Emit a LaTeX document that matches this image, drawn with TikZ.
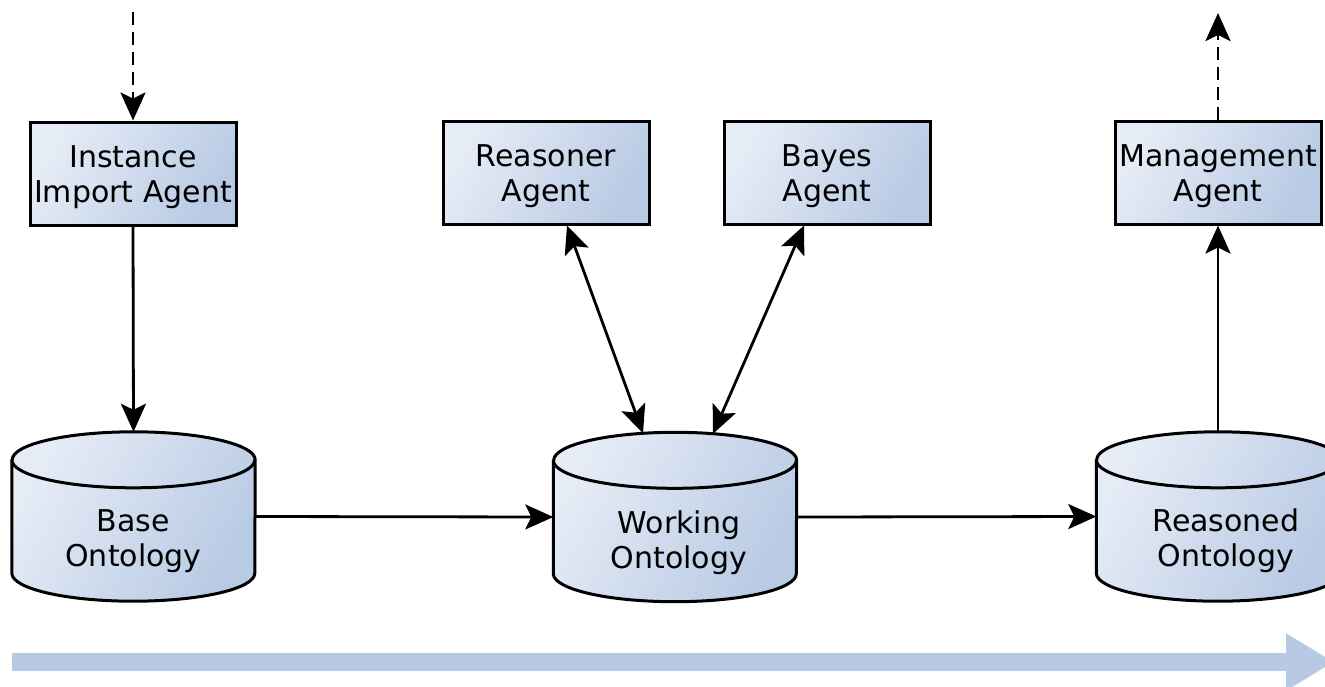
\documentclass[tikz,border=0pt]{standalone}
\usepackage{fontspec}
\setmainfont{DejaVu Sans}
\usetikzlibrary{arrows.meta,calc}

\definecolor{boxlight}{HTML}{E6ECF6}
\definecolor{boxdark}{HTML}{B8CAE4}
\definecolor{flowblue}{HTML}{B8CAE3}

\newcommand{\topstrut}{\rule{0pt}{30pt}}

\tikzset{
  agent/.style={draw=black, line width=3pt, rectangle,
    minimum width=206pt, minimum height=103pt, inner sep=0pt,
    left color=boxlight, right color=boxdark, shading angle=60,
    align=center, font=\fontsize{30}{35}\selectfont},
  storearea/.style={rectangle, minimum width=243pt, minimum height=169pt, inner sep=0pt},
  storefill/.style={draw=black, line width=3pt, line join=round,
    left color=boxlight, right color=boxdark, shading angle=60},
  storetext/.style={align=center, font=\fontsize{30}{35}\selectfont, inner sep=0pt},
  link/.style={line width=2.8pt, -{Stealth[length=28pt,width=25pt,inset=6pt]}},
  twoway/.style={line width=2.8pt, {Stealth[length=28pt,width=25pt,inset=6pt]}-{Stealth[length=28pt,width=25pt,inset=6pt]}},
  extlink/.style={link, dash pattern=on 13pt off 7pt},
}

% cylinder outline drawn over a named rectangular area
\newcommand{\drawstore}[1]{%
  \shade[storefill]
    ($(#1.north west)+(0,28)$) -- ($(#1.south west)+(0,-28)$)
    arc[start angle=180, end angle=360, x radius=121.5pt, y radius=28pt]
    -- ($(#1.north east)+(0,28)$)
    arc[start angle=0, end angle=180, x radius=121.5pt, y radius=28pt]
    -- cycle;
  \draw[line width=3pt]
    ($(#1.north west)+(0,28)$)
    arc[start angle=180, end angle=360, x radius=121.5pt, y radius=28pt];
}

\begin{document}
\begin{tikzpicture}[x=1pt,y=-1pt]
\useasboundingbox (0,0) rectangle (1325,686);

% agents
\node[agent] (import) at (133,173.5) {\topstrut Instance\\Import Agent};
\node[agent] (reasoner) at (546,172.5) {\topstrut Reasoner\\Agent};
\node[agent] (bayes) at (827,172.5) {\topstrut Bayes\\Agent};
\node[agent] (manage) at (1218,172.5) {\topstrut Management\\Agent};

% ontology stores
\node[storearea] (base) at (133.5,516.5) {};
\node[storearea] (working) at (675,517) {};
\node[storearea] (reasoned) at (1218,516.5) {};
\drawstore{base}
\drawstore{working}
\drawstore{reasoned}
\node[storetext] (basetext) at (133.5,541) {Base\\Ontology};
\node[storetext] (workingtext) at (679,543) {Working\\Ontology};
\node[storetext] (reasonedtext) at (1226,541) {Reasoned\\Ontology};

% external input and output
\coordinate (inflow) at (133,12);
\coordinate (outflow) at (1218,13);
\draw[extlink] (inflow) -- (import.north);
\draw[extlink] (manage.north) -- (outflow);

% data flow between agents and stores
\draw[link] (import.south) -- (base.north);
\draw[link] (base.east) -- (working.west);
\draw[link] (working.east) -- (reasoned.west);
\draw[link] (reasoned.north) -- (manage.south);
\draw[twoway] ($(reasoner.south)+(21,0)$) -- ($(working.north)+(-32,1)$);
\draw[twoway] ($(bayes.south)+(-23,0)$) -- ($(working.north)+(38,1.5)$);

% overall processing direction
\coordinate (flowstart) at (12,662);
\coordinate (flowend) at (1334,662);
\draw[flowblue, line width=18pt, -{Triangle[length=48pt,width=54pt]}] (flowstart) -- (flowend);
\end{tikzpicture}
\end{document}
